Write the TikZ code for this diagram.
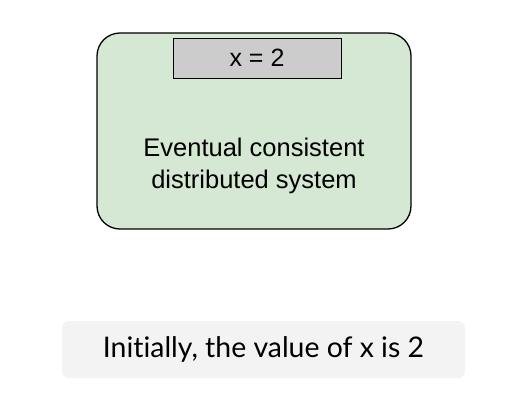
\documentclass[tikz,border=0pt]{standalone}
\usepackage{fontspec}
\setmainfont{Liberation Sans}
\newfontfamily\captionfont[Ligatures=NoCommon]{Lato}
\usetikzlibrary{positioning}
\definecolor{sysgreen}{HTML}{D5E8D4}
\definecolor{valgray}{HTML}{CCCCCC}
\definecolor{capgray}{HTML}{F3F3F3}

\begin{document}
\begin{tikzpicture}[x=1pt, y=-1pt, every node/.style={align=center, inner sep=0pt}]
   \useasboundingbox (0,0) rectangle (524,408);
   \node[draw, line width=1.3pt, fill=sysgreen, rounded corners=23pt, minimum width=314pt, minimum height=196pt] (system) at (254,131) {};
   \node[font=\fontsize{25.5}{31.5}\selectfont] (systemlabel) at (254,166) {Eventual consistent\\distributed system};
   \node[draw, line width=1pt, fill=valgray, minimum width=168pt, minimum height=40pt, font=\fontsize{25}{28}\selectfont] (value) at (257,58) {x = 2};

   \node[fill=capgray, rounded corners=7pt, minimum width=403pt, minimum height=57pt, font=\captionfont\fontsize{28.4}{32}\selectfont] (caption) at (263.5,349.5) {Initially, the value of x is 2};
 \end{tikzpicture}
\end{document}
